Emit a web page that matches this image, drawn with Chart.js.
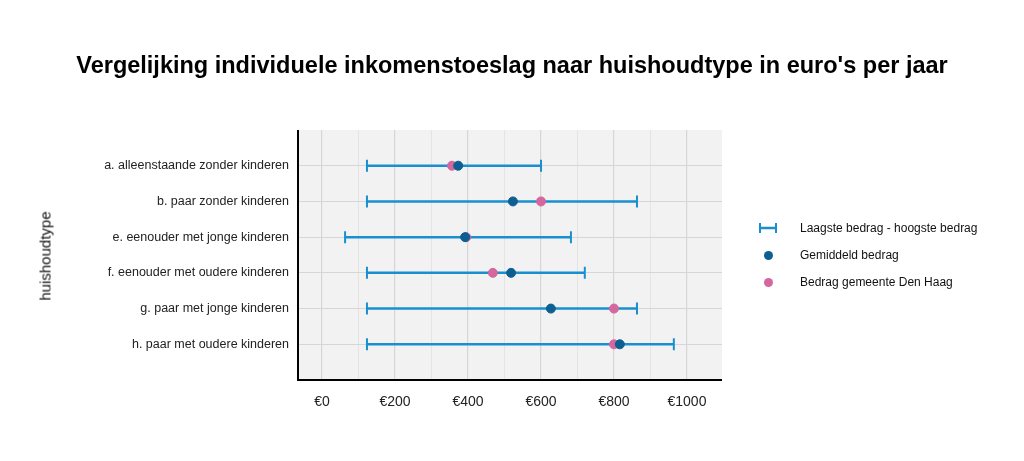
<!DOCTYPE html>
<html><head><meta charset="utf-8">
<script src="https://cdn.jsdelivr.net/npm/chart.js@4"></script>
<style>
body{margin:0;background:#fff;font-family:"Liberation Sans",Arial,sans-serif;}
#wrap{position:relative;width:1024px;height:461px;}
#title{position:absolute;top:52px;left:0;width:1024px;text-align:center;font-weight:bold;font-size:23.5px;color:#000;}
#ytitle{position:absolute;left:45px;top:256px;transform:translate(-50%,-50%) rotate(-90deg);font-size:15px;color:#111;white-space:nowrap;}
#legend{position:absolute;left:756px;top:214px;font-size:12px;color:#111;}
.li{display:flex;align-items:center;height:27px;}
.sym{width:24px;height:14px;position:relative;margin-right:20px;}
.dot{position:absolute;left:8px;top:3px;width:9px;height:9px;border-radius:50%;}
</style></head><body>
<div id="wrap">
<div id="title">Vergelijking individuele inkomenstoeslag naar huishoudtype in euro's per jaar</div>
<div id="ytitle">huishoudtype</div>
<canvas id="c" width="1024" height="461"></canvas>
<div id="legend">
 <div class="li"><div class="sym"><svg width="24" height="14"><line x1="4" y1="7" x2="20" y2="7" stroke="#1a8fd0" stroke-width="2.5"/><line x1="4" y1="2" x2="4" y2="12" stroke="#1a8fd0" stroke-width="2"/><line x1="20" y1="2" x2="20" y2="12" stroke="#1a8fd0" stroke-width="2"/></svg></div>Laagste bedrag - hoogste bedrag</div>
 <div class="li"><div class="sym"><div class="dot" style="background:#0d5e91"></div></div>Gemiddeld bedrag</div>
 <div class="li"><div class="sym"><div class="dot" style="background:#d3679e"></div></div>Bedrag gemeente Den Haag</div>
</div>
</div>
<script>
const categories=["a. alleenstaande zonder kinderen","b. paar zonder kinderen","e. eenouder met jonge kinderen","f. eenouder met oudere kinderen","g. paar met jonge kinderen","h. paar met oudere kinderen"];
const minVals=[123,123,63,123,123,123];
const maxVals=[600,863,682,720,863,964];
const meanVals=[373,523,392,518,627,816];
const haagVals=[356,600,395,468,800,800];
const xTicks=[0,100,200,300,400,500,600,700,800,900,1000];

const errPlugin={id:'err',beforeDatasetsDraw(ch){
 const ctx=ch.ctx,xs=ch.scales.x,ys=ch.scales.y;
 ctx.save();ctx.strokeStyle='#1a8fd0';
 categories.forEach((c,i)=>{
  const y=ys.getPixelForValue(i+1),x1=xs.getPixelForValue(minVals[i]),x2=xs.getPixelForValue(maxVals[i]);
  ctx.lineWidth=2.5;ctx.beginPath();ctx.moveTo(x1,y);ctx.lineTo(x2,y);ctx.stroke();
  ctx.lineWidth=2;ctx.beginPath();ctx.moveTo(x1,y-6);ctx.lineTo(x1,y+6);ctx.moveTo(x2,y-6);ctx.lineTo(x2,y+6);ctx.stroke();
 });
 ctx.restore();
}};
const bgPlugin={id:'bg',beforeDraw(ch){const a=ch.chartArea,ctx=ch.ctx;ctx.save();ctx.fillStyle='#f2f2f2';ctx.fillRect(a.left,a.top,a.right-a.left,a.bottom-a.top);ctx.restore();},
 afterDraw(ch){const a=ch.chartArea,ctx=ch.ctx;ctx.save();ctx.strokeStyle='#000';ctx.lineWidth=2;ctx.beginPath();ctx.moveTo(a.left,a.top);ctx.lineTo(a.left,a.bottom);ctx.lineTo(a.right,a.bottom);ctx.stroke();ctx.restore();}};

new Chart(document.getElementById('c'),{
 type:'scatter',
 data:{datasets:[
  {label:'Gemiddeld bedrag',data:meanVals.map((v,i)=>({x:v,y:i+1})),backgroundColor:'#0d5e91',borderColor:'#0d5e91',pointRadius:4.5},
  {label:'Bedrag gemeente Den Haag',data:haagVals.map((v,i)=>({x:v,y:i+1})),backgroundColor:'#d3679e',borderColor:'#d3679e',pointRadius:4.5}
 ]},
 options:{responsive:false,animation:false,
  layout:{padding:{top:130,right:302,left:0,bottom:0}},
  plugins:{legend:{display:false},tooltip:{enabled:false}},
  scales:{
   x:{type:'linear',min:-66,max:1096,
    afterBuildTicks(s){s.ticks=xTicks.map(v=>({value:v}));},
    afterFit(s){s.height=81;},
    grid:{color:c=>(c.tick&&c.tick.value%200===0)?'#d6d6d6':'#e4e4e4',lineWidth:c=>(c.tick&&c.tick.value%200===0)?1.2:1,drawTicks:false},
    border:{display:false},
    ticks:{padding:14,maxRotation:0,minRotation:0,autoSkip:false,color:'#222',font:{family:'Liberation Sans',size:14},callback:v=>v%200===0?'€'+v:''}},
   y:{type:'linear',min:0,max:7,reverse:true,
    afterBuildTicks(s){s.ticks=categories.map((c,i)=>({value:i+1}));},
    afterFit(s){s.width=298;},
    grid:{color:'#d6d6d6',drawTicks:false},border:{display:false},
    ticks:{padding:9,color:'#222',font:{family:'Liberation Sans',size:12.5},callback:v=>categories[v-1]||''}}
  }},
 plugins:[bgPlugin,errPlugin]
});
</script></body></html>
